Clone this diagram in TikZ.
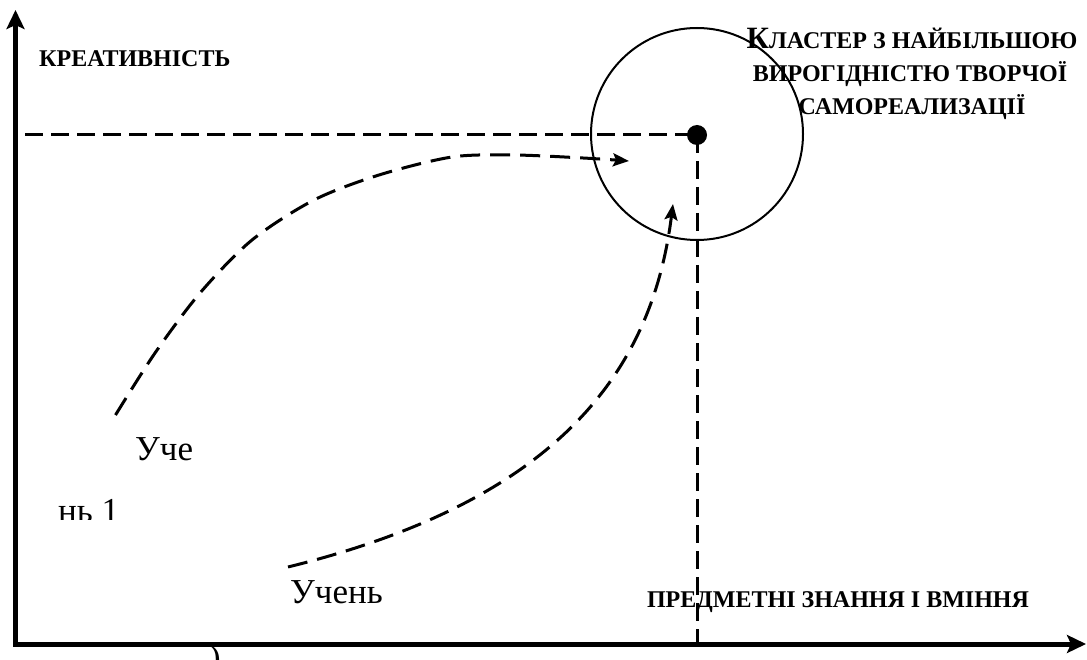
\documentclass[tikz,border=0pt]{standalone}
\usepackage{fontspec}
\setmainfont{Liberation Serif}
\usetikzlibrary{arrows.meta}
\begin{document}
\begin{tikzpicture}[x=1pt,y=-1pt,
  axis/.style={line width=5pt,-{Stealth[length=19pt,width=18pt,inset=4pt]}},
  guide/.style={line width=3pt,dash pattern=on 18pt off 8pt},
  trail/.style={line width=3pt,dash pattern=on 20pt off 10pt},
  tipar/.style={-{Stealth[length=16pt,width=13pt,inset=3pt]}},
  boldtxt/.style={font=\fontsize{24}{33}\selectfont\bfseries, inner sep=0pt},
  plaintxt/.style={font=\fontsize{35}{40}\selectfont, inner sep=0pt}]
\useasboundingbox (0,0) rectangle (1087,660);
% axes
\coordinate (O) at (15.5,644);
\coordinate (ytop) at (15.5,10);
\coordinate (xend) at (1086,644);
\draw[axis] (15.5,646.5) -- (ytop);
\draw[axis] (13,644) -- (xend);
% cluster
\node[circle, draw, line width=2pt, minimum size=212pt, inner sep=0pt] (C) at (697,134) {};
\node[circle, fill, inner sep=0pt, minimum size=20pt] (P) at (697,135) {};
\coordinate (gl) at (25,135);
\coordinate (gb) at (697,644);
\draw[guide] (gl) -- (P.center);
\draw[guide] (P.center) -- (gb);
% trajectories
\coordinate (s1) at (115.5,415);
\coordinate (e1) at (629,161);
\draw[trail,tipar] plot[smooth] coordinates {(s1) (155,353) (200,293) (252,240) (314,200) (379,175) (452,157) (514,155) (583,158) (e1)};
\coordinate (s2) at (288,567);
\coordinate (e2) at (673,204);
\draw[trail,tipar] (s2) .. controls (560,500) and (652,370) .. (e2);
% labels
\node[boldtxt, anchor=base west] (ky) at (39,67) {КРЕАТИВНІСТЬ};
\node[boldtxt, anchor=base] (c1) at (912,49) {{\fontsize{31}{33}\selectfont К}ЛАСТЕР З НАЙБІЛЬШОЮ};
\node[boldtxt, anchor=base] (c2) at (910,82) {ВИРОГІДНІСТЮ ТВОРЧОЇ};
\node[boldtxt, anchor=base] (c3) at (912,115) {САМОРЕАЛИЗАЦІЇ};
\node[boldtxt, anchor=base] (kx) at (838,607) {ПРЕДМЕТНІ ЗНАННЯ І ВМІННЯ};
\node[plaintxt, anchor=base west] (u1a) at (135,460) {Уче};
\begin{scope}
\clip (0,0) rectangle (400,519);
\node[plaintxt, anchor=base west] (u1b) at (58,522) {нь 1};
\end{scope}
\node[plaintxt, anchor=base west] (u2) at (290,603) {Учень};
\node[plaintxt, anchor=base west] (u2b) at (209,669) {)};
\end{tikzpicture}
\end{document}
